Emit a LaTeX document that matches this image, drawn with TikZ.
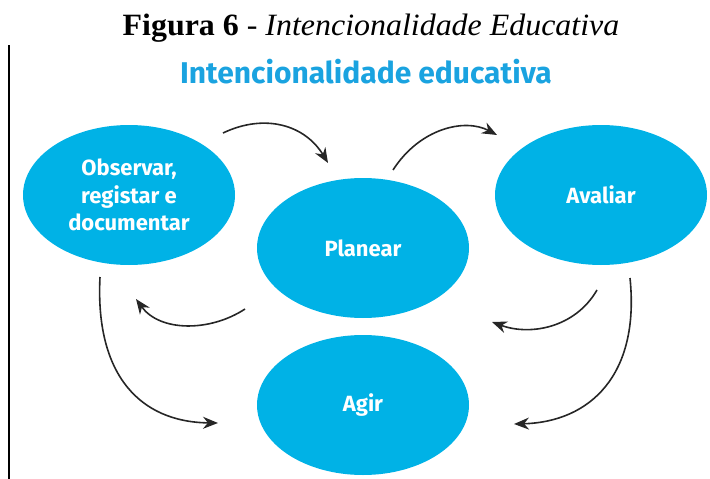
\documentclass[tikz,border=0pt]{standalone}
\usepackage{fontspec}
\setmainfont{Liberation Serif}
\newfontfamily\lblfont{Fira Sans}
\usetikzlibrary{arrows.meta,shapes.geometric}
\definecolor{cyanfill}{RGB}{0,178,230}
\definecolor{titleblue}{RGB}{26,163,224}
\tikzset{
  bubble/.style={ellipse, fill=cyanfill, minimum width=212pt, minimum height=140pt, inner sep=0pt,
    text=white, font=\lblfont\bfseries\fontsize{22}{27.5}\selectfont, align=center},
  cyc/.style={line width=1.6pt, draw=black!85, -{Stealth[length=15pt,width=12pt]}}
}
\begin{document}
\begin{tikzpicture}[x=1pt,y=-1pt]
\useasboundingbox (0,0) rectangle (710,479);
\node (title) at (371,28) {\scalebox{1.03}[1]{\fontsize{31}{33}\selectfont\textbf{Figura 6} - \textit{Intencionalidade Educativa}}};
\draw[line width=1.5pt] (9,45) coordinate (lt) -- (9,479) coordinate (lb);
\node (sub) at (366,72) {\lblfont\bfseries\fontsize{30}{32}\selectfont\color{titleblue}Intencionalidade educativa};
\node[bubble] (obs) at (129,195) {Observar,\\registar e\\documentar};
\node[bubble] (plan) at (363,248) {Planear};
\node[bubble] (aval) at (601,195) {Avaliar};
\node[bubble] (agir) at (363,405) {Agir};
\coordinate (a1s) at (223,133); \coordinate (a1e) at (328,163);
\coordinate (a2s) at (393,170); \coordinate (a2e) at (497,135);
\coordinate (a3s) at (597,290); \coordinate (a3e) at (492,322);
\coordinate (a4s) at (245,309); \coordinate (a4e) at (136,299);
\coordinate (a5s) at (100,277); \coordinate (a5e) at (218,423);
\coordinate (a6s) at (630,278); \coordinate (a6e) at (514,424);
\draw[cyc] (a1s) .. controls (265,113) and (305,125) .. (a1e);
\draw[cyc] (a2s) .. controls (420,128) and (465,118) .. (a2e);
\draw[cyc] (a3s) .. controls (575,328) and (530,336) .. (a3e);
\draw[cyc] (a4s) .. controls (210,332) and (160,332) .. (a4e);
\draw[cyc] (a5s) .. controls (95,375) and (140,422) .. (a5e);
\draw[cyc] (a6s) .. controls (640,375) and (590,422) .. (a6e);
\end{tikzpicture}
\end{document}
